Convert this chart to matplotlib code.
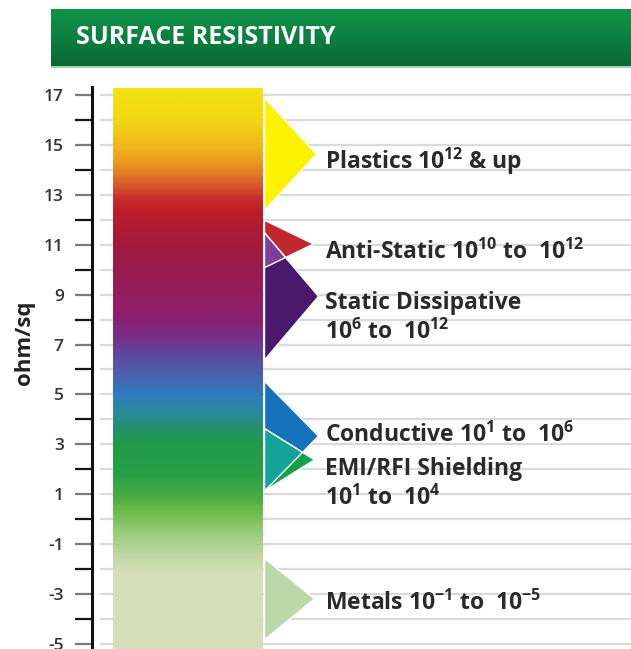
import numpy as np
import matplotlib
matplotlib.use("Agg")
import matplotlib.pyplot as plt
from matplotlib.colors import LinearSegmentedColormap, Normalize

plt.rcParams["font.family"] = ["Open Sans", "DejaVu Sans"]
plt.rcParams["mathtext.fontset"] = "custom"
plt.rcParams["mathtext.rm"] = "Open Sans:bold"
plt.rcParams["mathtext.bf"] = "Open Sans:bold"
plt.rcParams["mathtext.it"] = "Open Sans:bold"
plt.rcParams["mathtext.default"] = "rm"

# ─── Données (log10 ohm/sq) ───────────────────────────────────────────────────
groups = ["Plastics", "Anti-Static", "Static Dissipative",
          "Conductive", "EMI/RFI Shielding", "Metals"]
labels = [
    "Plastics $10^{12}$ & up",
    "Anti-Static $10^{10}$ to  $10^{12}$",
    "Static Dissipative\n$10^{6}$ to  $10^{12}$",
    "Conductive $10^{1}$ to  $10^{6}$",
    "EMI/RFI Shielding\n$10^{1}$ to  $10^{4}$",
    "Metals $10^{-1}$ to  $10^{-5}$",
]
band_lo = [12.4, 10.1, 6.4, 1.15, 1.15, -4.8]
band_hi = [16.9, 12.0, 11.5, 5.55, 3.65, -1.55]
band_colors = ["#fff200", "#c1272d", "#4b196b", "#1572bb", "#17a04a", "#b9d9a9"]
# (index a, index b, couleur du recouvrement)
overlaps = [(1, 2, "#7e3f98"), (3, 4, "#13a39b")]

# dégradé de l'échelle
grad_vals = [-5.2, -2.2, -1.5, -0.7, 0.3, 0.8, 1.8, 3.0, 3.7, 4.3, 5.0, 5.8,
             6.5, 7.2, 8.0, 9.0, 10.0, 11.0, 12.3, 12.8, 13.5, 14.3, 15.0, 16.0, 17.24]
grad_cols = ["#d6e0b8", "#d4dfb7", "#bfd8a4", "#9dce80", "#6bbb4a", "#4aae44",
             "#27a046", "#229a48", "#248f6e", "#2a8aa0", "#2f7bbf", "#4c60ad",
             "#5b4aa0", "#73308c", "#8c2070", "#941d5e", "#9a1b4d", "#a21a3c",
             "#bb1d2a", "#c42a2a", "#d9612a", "#ea9a20", "#efb81c", "#f2d613", "#f2e311"]

# ─── Mise en page (pixels) ────────────────────────────────────────────────────
W, H = 631, 649
YMIN, YMAX = -5.2, 17.32
BAR_X0, BAR_X1 = 21, 171
TRI_X0 = 172
tip_len = [52, 49, 54, 54, 50, 50]
TXT_X = 233
label_y = [14.5, 10.82, 8.78, 3.49, 2.13, -3.24]
LINE_STEP = 1.17
TXT_COL = "#2a2a2a"

fig = plt.figure(figsize=(W / 100, H / 100), dpi=100)
fig.patch.set_facecolor("white")

# ─── Bandeau titre ────────────────────────────────────────────────────────────
hx0, hy0, hy1 = 51, 9, 66
shadow = fig.add_axes([hx0 / W, 1 - (hy1 + 2) / H, 1 - hx0 / W, 2 / H])
shadow.set_axis_off()
shadow.add_patch(plt.Rectangle((0, 0), 1, 1, color="#a9cdb7", transform=shadow.transAxes))
hax = fig.add_axes([hx0 / W, 1 - hy1 / H, 1 - hx0 / W, (hy1 - hy0) / H])
hcmap = LinearSegmentedColormap.from_list("hdr", ["#0a6834", "#0b8040", "#0f9446"])
hax.imshow(np.linspace(0, 1, 100).reshape(-1, 1), cmap=hcmap, aspect="auto",
           origin="lower", extent=[0, 1, 0, 1])
hax.set_xlim(0, 1); hax.set_ylim(0, 1); hax.set_axis_off()
hax.text((76 - hx0) / (W - hx0), 0.5, "SURFACE RESISTIVITY", color="white",
         fontsize=18, fontweight="bold", va="center", ha="left")

# ─── Axe principal ────────────────────────────────────────────────────────────
ax = fig.add_axes([92 / W, 0, 1 - 92 / W, (H - 87) / H])
ax.set_xlim(0, W - 92)
ax.set_ylim(YMIN, YMAX)
ax.set_facecolor("white")

major = np.arange(-5, 18, 2)
minor = np.arange(-4, 17, 2)
ax.set_yticks(major)
ax.set_yticks(minor, minor=True)
ax.set_yticklabels([str(v) for v in major])
ax.tick_params(axis="y", which="both", direction="out", length=12.3, width=1.6,
               pad=8.0, labelsize=12.5, labelcolor="#333333")
ax.tick_params(axis="y", which="major", color="#7a7a7a")
ax.tick_params(axis="y", which="minor", color="#151515")
for lab in ax.get_yticklabels():
    lab.set_fontweight("semibold")
ax.set_xticks([])
for s in ["top", "right", "bottom"]:
    ax.spines[s].set_visible(False)
ax.spines["left"].set_linewidth(2.2)
ax.spines["left"].set_color("#111111")
ax.set_ylabel("ohm/sq", fontsize=16, fontweight="bold", color="#222222")
ax.yaxis.set_label_coords((35 - 92) / (W - 92), (H - 343) / (H - 87))

# lignes horizontales
ax.hlines(np.arange(-5, 18), 8, W - 92, color="#dadada", lw=1.6, zorder=0)

# barre en dégradé
norm = Normalize(grad_vals[0], grad_vals[-1])
cmap = LinearSegmentedColormap.from_list(
    "scale", list(zip(norm(np.array(grad_vals)), grad_cols)))
vals = np.linspace(grad_vals[0], grad_vals[-1], 600).reshape(-1, 1)
ax.imshow(vals, cmap=cmap, norm=norm, aspect="auto", origin="lower",
          extent=[BAR_X0, BAR_X1, grad_vals[0], grad_vals[-1]], zorder=2)


# triangles
def edges(i, x):
    lo, hi = band_lo[i], band_hi[i]
    mid = (lo + hi) / 2
    L = tip_len[i]
    return lo + (mid - lo) * x / L, hi - (hi - mid) * x / L


for i in range(len(groups)):
    x = np.linspace(0, tip_len[i], 300)
    lower, upper = edges(i, x)
    ax.fill_between(TRI_X0 + x, lower, upper, color=band_colors[i],
                    edgecolor="white", lw=1.0, zorder=3)

for a, b, col in overlaps:
    x = np.linspace(0, min(tip_len[a], tip_len[b]), 600)
    la, ua = edges(a, x)
    lb, ub = edges(b, x)
    lower, upper = np.maximum(la, lb), np.minimum(ua, ub)
    ax.fill_between(TRI_X0 + x, lower, upper, where=upper >= lower,
                    interpolate=True, color=col, edgecolor="white", lw=1.0, zorder=4)

# étiquettes
for lab, y in zip(labels, label_y):
    for k, line in enumerate(lab.split("\n")):
        ax.text(TXT_X, y - k * LINE_STEP, line, fontsize=16.5, fontweight="bold",
                color=TXT_COL, ha="left", va="center_baseline", zorder=5)

fig.savefig("out.png", dpi=100, facecolor="white")
